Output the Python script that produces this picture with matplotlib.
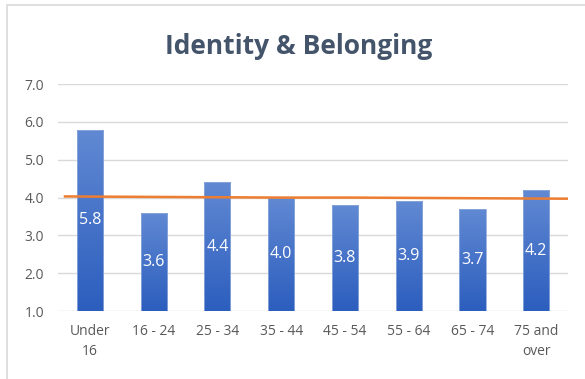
import numpy as np
import matplotlib.pyplot as plt
from matplotlib.colors import LinearSegmentedColormap

# age groups and scores
groups = ["Under\n16", "16 - 24", "25 - 34", "35 - 44", "45 - 54", "55 - 64", "65 - 74", "75 and\nover"]
scores = [5.8, 3.6, 4.4, 4.0, 3.8, 3.9, 3.7, 4.2]

# overall average trend line
avg_line = [4.03, 4.02, 4.01, 4.00, 4.00, 3.99, 3.98, 3.97]

plt.rcParams["font.family"] = ["Open Sans", "DejaVu Sans"]

fig = plt.figure(figsize=(5.85, 3.79), dpi=100)
ax = fig.add_axes([0.0991, 0.1794, 0.872, 0.5986])

# chart border
fig.patches.append(plt.Rectangle((7 / 585, -0.1), 1.2, 1 - 4.5 / 379 + 0.1,
                                 transform=fig.transFigure, fill=False,
                                 edgecolor="#D9D9D9", linewidth=1.2))

x = np.arange(len(groups))
bars = ax.bar(x, scores, width=0.41, bottom=0, color="none",
              edgecolor="#8EA9DB", linewidth=0.6, zorder=3)

cmap = LinearSegmentedColormap.from_list("bar", ["#2C5EBE", "#6189D3"])
grad = np.linspace(0, 1, 256).reshape(-1, 1)

for b, v in zip(bars, scores):
    x0 = b.get_x()
    w = b.get_width()
    im = ax.imshow(grad, cmap=cmap, origin="lower", aspect="auto",
                   extent=[x0, x0 + w, 1, v], zorder=2)
    im.set_clip_path(b)
    ax.text(x0 + w / 2, (1 + v) / 2, f"{v:.1f}", ha="center", va="center",
            color="white", fontsize=11.5, zorder=5)

line_x = np.linspace(-0.39, 7.5, len(avg_line))
ax.plot(line_x, avg_line, color="#ED7D31", linewidth=1.8, zorder=4)

ax.set_xlim(-0.5, 7.5)
ax.set_ylim(1, 7)
ax.set_yticks(np.arange(1, 8))
ax.set_yticklabels([f"{t:.1f}" for t in np.arange(1, 8)])
ax.set_xticks(x)
ax.set_xticklabels(groups, linespacing=1.5)

ax.grid(axis="y", color="#D9D9D9", linewidth=1)
ax.set_axisbelow(True)
for s in ax.spines.values():
    s.set_visible(False)
ax.tick_params(length=0, labelsize=10, colors="#595959")
ax.tick_params(axis="y", pad=10)
ax.tick_params(axis="x", pad=9)

fig.text(0.511, 0.878, "Identity & Belonging", ha="center", va="center",
         fontsize=19, fontweight="bold", color="#44546A")

fig.savefig("out.png", dpi=100)
